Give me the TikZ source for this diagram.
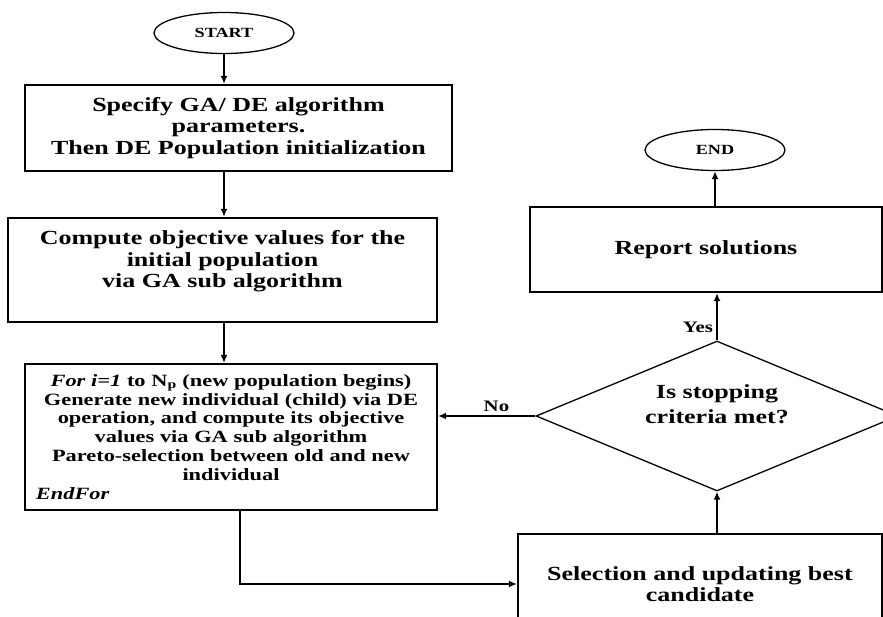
\documentclass[tikz,border=0pt]{standalone}
\usepackage{fontspec}
\setmainfont{Liberation Serif}[FakeStretch=1.3]
\usetikzlibrary{shapes.geometric,arrows.meta}
\begin{document}
\begin{tikzpicture}[x=1pt,y=-1pt,
  txt/.style={align=center,inner sep=0pt,font=\bfseries\fontsize{20}{21.5}\selectfont},
  box/.style={txt,draw,line width=2.2pt},
  term/.style={ellipse,draw,line width=1.3pt,minimum width=140pt,minimum height=41pt,inner sep=0pt,font=\bfseries\fontsize{14}{15}\selectfont},
  arr/.style={line width=2pt,-{Latex[length=8pt,width=7pt]}},
  lab/.style={font=\bfseries\fontsize{16}{17}\selectfont,inner sep=3pt}]
\useasboundingbox (0,0) rectangle (883,617);
\node [term] (start) at (224,33) {START};
\node [box,minimum width=427pt,minimum height=86pt] (spec) at (238.5,128)
  {Specify GA/ DE algorithm\\parameters.\\Then DE Population initialization};
\node [box,minimum width=429pt,minimum height=104pt] (init) at (222.5,270)
  {Compute objective values for the\\initial population\\via GA sub algorithm\\\mbox{}};
\node [box,minimum width=412pt,minimum height=146pt,text width=390pt,
  font=\bfseries\fontsize{17.2}{18.9}\selectfont] (loop) at (231,437)
  {\textit{For i=1} to N\textsubscript{p} (new population begins)\\
   Generate new individual (child) via DE\\
   operation, and compute its objective\\
   values via GA sub algorithm\\
   Pareto-selection between old and new\\
   individual\\
   \makebox[\linewidth][l]{\textit{EndFor}}};
\node [box,minimum width=364pt,minimum height=100pt] (sel) at (700,584)
  {Selection and updating best\\candidate};
\node [diamond,draw,line width=1.3pt,aspect=2.4,minimum width=362pt,minimum height=150pt,inner sep=0pt] (stop) at (717,416) {};
\node [txt,font=\bfseries\fontsize{20}{25}\selectfont] (stoptext) at (717,404) {Is stopping\\criteria met?};
\node [box,minimum width=352pt,minimum height=85pt] (report) at (706,249.5) {Report solutions};
\node [term] (finish) at (715,150) {END};
\draw [arr] (start.south) -- (start.south |- spec.north);
\draw [arr] (spec.south -| start) -- (init.north -| start);
\draw [arr] (init.south -| start) -- (loop.north -| start);
\draw [arr] ([xshift=9pt]loop.south) |- (sel.west);
\draw [arr] (sel.north -| stop) -- (stop.south);
\draw [arr] (stop.west) -- node[lab,above,pos=0.4] {No} (stop.west -| loop.east);
\draw [arr] (stop.north) -- node[lab,left,pos=0.27] {Yes} (stop.north |- report.south);
\draw [arr] (report.north -| finish) -- (finish.south);
\end{tikzpicture}
\end{document}
